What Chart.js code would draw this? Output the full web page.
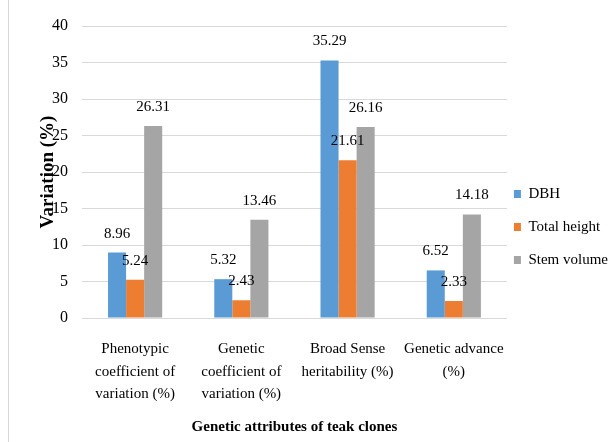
<!DOCTYPE html>
<html lang="en">
<head>
  <meta charset="UTF-8">
  <title>Genetic attributes of teak clones</title>
  <script src="https://cdn.jsdelivr.net/npm/chart.js"></script>
  <style>
    body { margin: 0; background: #fff; }
    .chart-box { position: relative; width: 610px; height: 442px; overflow: hidden; }
    .chart-box:before { content: ""; position: absolute; left: 8px; top: 0; bottom: 0; border-left: 1px solid #d9d9d9; }
    canvas { display: block; }
  </style>
</head>
<body>
  <div class="chart-box">
    <canvas id="chartCanvas" width="610" height="442"></canvas>
  </div>

  <script>
    // data
    const categories = [
      ["Phenotypic", "coefficient of", "variation (%)"],
      ["Genetic", "coefficient of", "variation (%)"],
      ["Broad Sense", "heritability (%)"],
      ["Genetic advance", "(%)"]
    ];
    const dbh = [8.96, 5.32, 35.29, 6.52];
    const totalHeight = [5.24, 2.43, 21.61, 2.33];
    const stemVolume = [26.31, 13.46, 26.16, 14.18];

    const serif = "'Liberation Serif', 'Times New Roman', Times, serif";

    // values printed above each bar
    const barValues = {
      id: "barValues",
      afterDatasetsDraw(chart) {
        const ctx = chart.ctx;
        ctx.save();
        ctx.font = "15px " + serif;
        ctx.fillStyle = "#000";
        ctx.textAlign = "center";
        ctx.textBaseline = "alphabetic";
        chart.data.datasets.forEach((ds, i) => {
          chart.getDatasetMeta(i).data.forEach((bar, j) => {
            ctx.fillText(ds.data[j].toFixed(2), bar.x, bar.y - 15);
          });
        });
        ctx.restore();
      }
    };

    // pull the legend a bit closer to the plot and up
    const legendNudge = {
      id: "legendNudge",
      afterLayout(chart) {
        chart.legend.left -= 11;
        chart.legend.right -= 11;
        chart.legend.top -= 7;
        chart.legend.bottom -= 7;
      }
    };

    new Chart(document.getElementById("chartCanvas"), {
      type: "bar",
      data: {
        labels: categories,
        datasets: [
          { label: "DBH", data: dbh, backgroundColor: "#5B9BD5" },
          { label: "Total height", data: totalHeight, backgroundColor: "#ED7D31" },
          { label: "Stem volume", data: stemVolume, backgroundColor: "#A5A5A5" }
        ]
      },
      options: {
        responsive: false,
        animation: false,
        categoryPercentage: 0.51,
        barPercentage: 1,
        layout: { padding: { top: 26, right: -19, left: 0, bottom: 0 } },
        plugins: {
          legend: {
            position: "right",
            labels: {
              boxWidth: 7,
              boxHeight: 8,
              padding: 18,
              color: "#000",
              font: { family: serif, size: 15 }
            }
          },
          tooltip: { enabled: false }
        },
        scales: {
          x: {
            grid: { display: false },
            border: { color: "#d9d9d9" },
            ticks: {
              color: "#000",
              padding: 12,
              maxRotation: 0,
              autoSkip: false,
              font: { family: serif, size: 15, lineHeight: 1.5 }
            },
            title: {
              display: true,
              text: "Genetic attributes of teak clones",
              color: "#000",
              font: { family: serif, size: 15, weight: "bold" },
              padding: { top: 0, bottom: 6 }
            },
            afterFit(scale) { scale.height = 124; }
          },
          y: {
            min: 0,
            max: 40,
            ticks: {
              stepSize: 5,
              color: "#000",
              padding: 14,
              font: { family: serif, size: 16 }
            },
            grid: { color: "#d9d9d9", drawTicks: false },
            border: { display: false },
            title: {
              display: true,
              text: "Variation (%)",
              color: "#000",
              font: { family: serif, size: 19, weight: "bold" },
              padding: { top: 37, bottom: 0 }
            },
            afterFit(scale) { scale.width = 82; }
          }
        }
      },
      plugins: [barValues, legendNudge]
    });
  </script>
</body>
</html>
